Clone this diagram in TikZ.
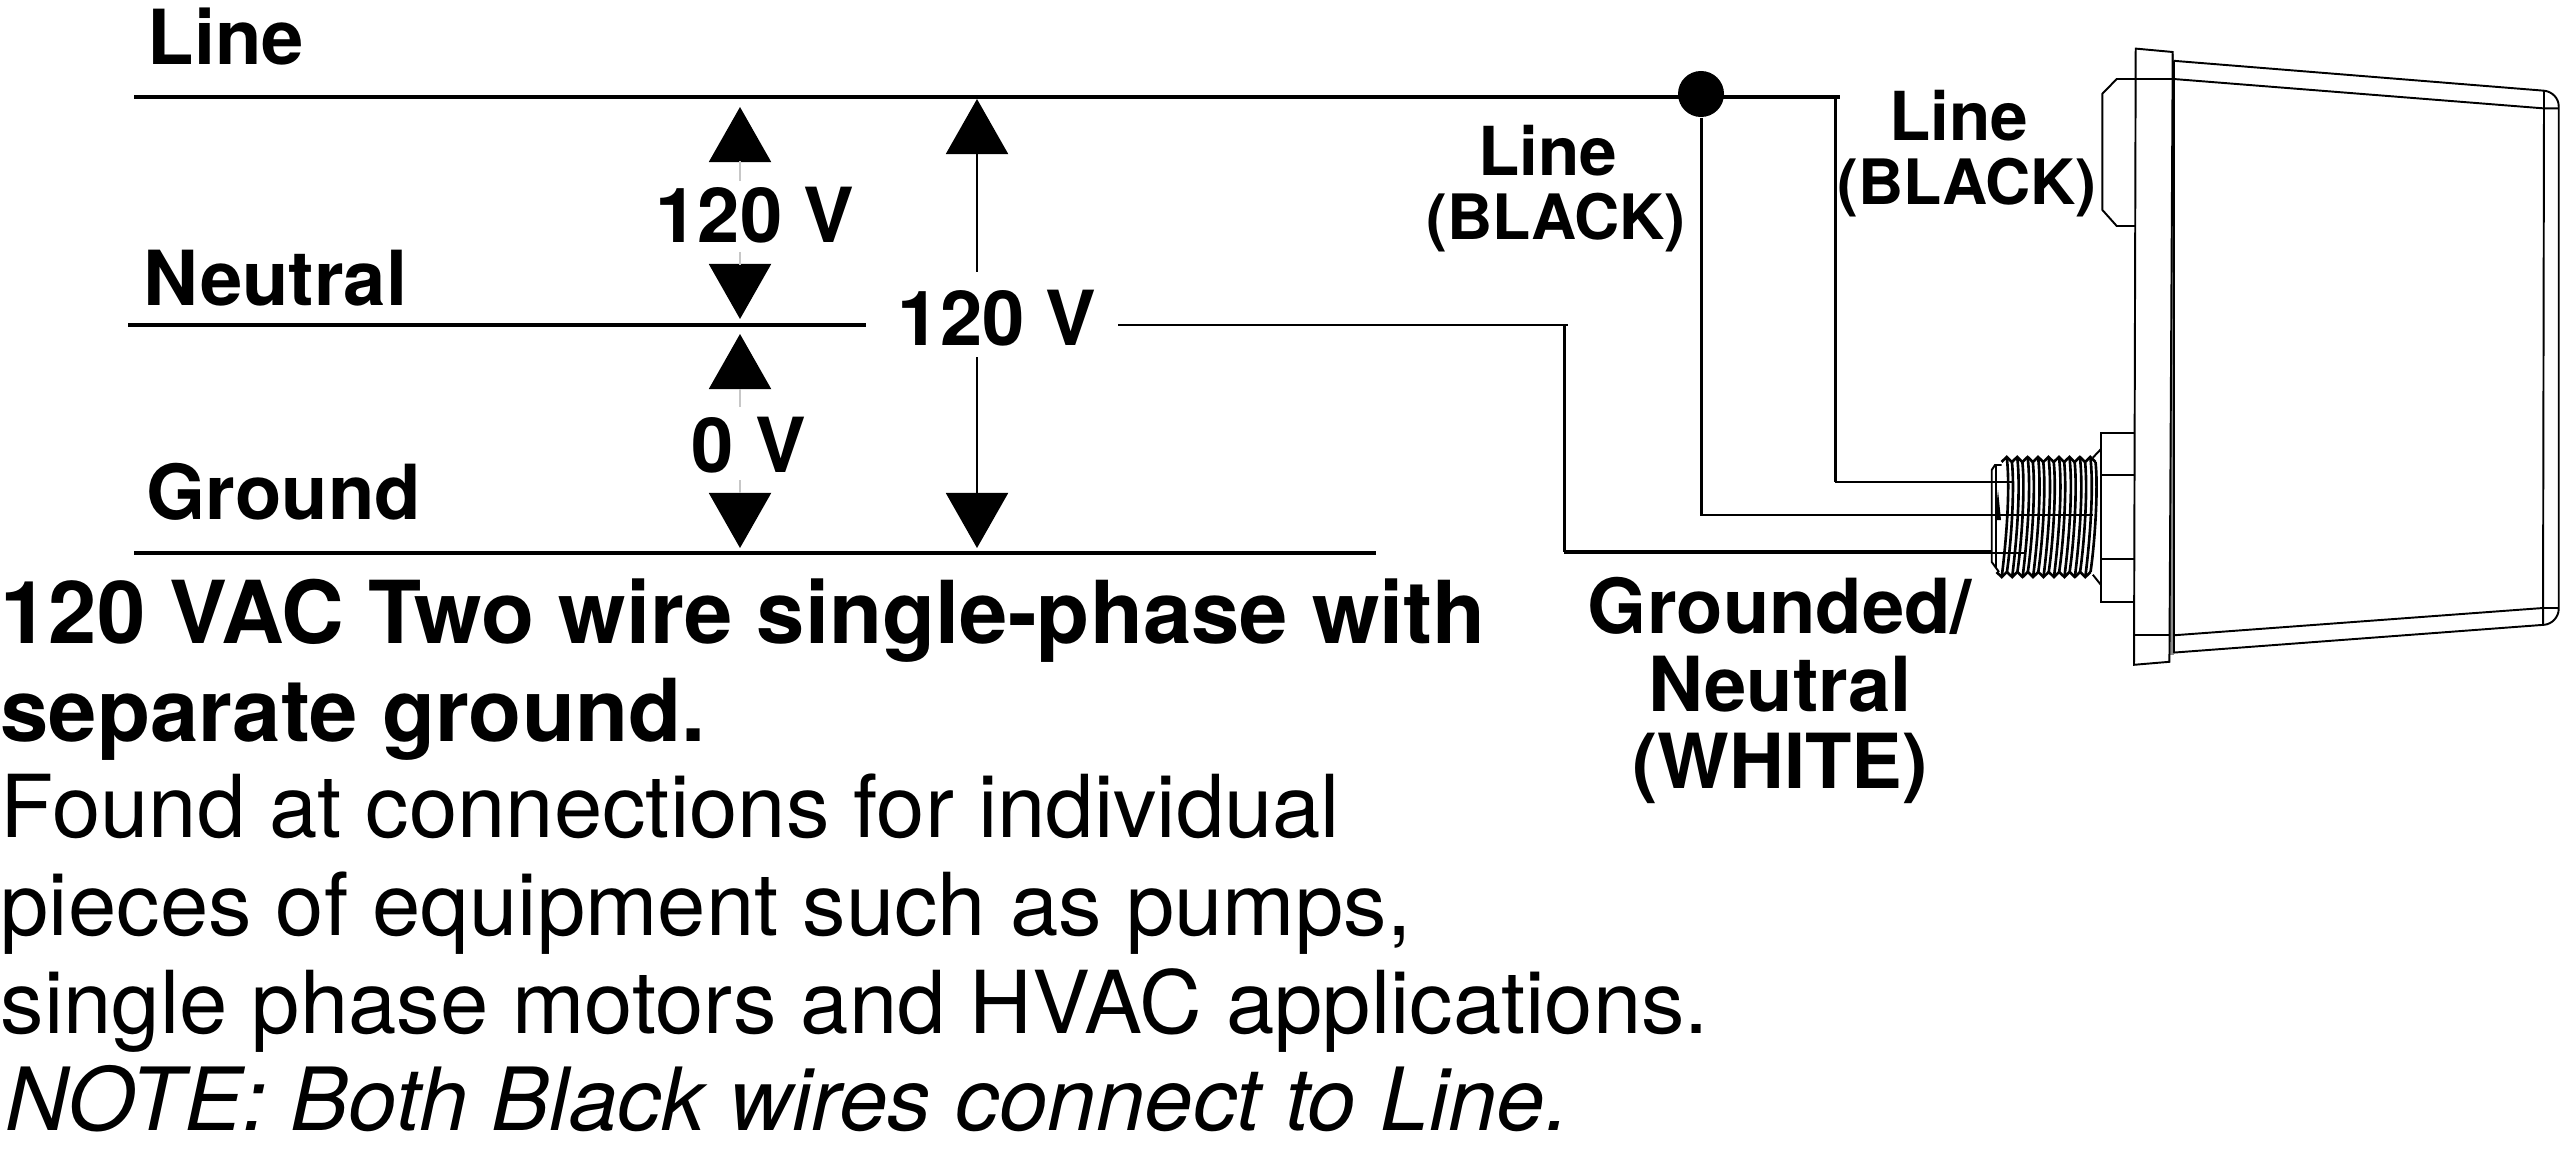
\documentclass[tikz,border=0pt]{standalone}
\usepackage{fontspec}
\setmainfont{TeX Gyre Heros}
\usetikzlibrary{arrows.meta}

\tikzset{
	busline/.style={line width=1.15pt},
	wire/.style={line width=0.85pt},
	devline/.style={line width=0.55pt},
	threadline/.style={line width=0.75pt},
	stem/.style={line width=0.3pt, black!22},
	voltarrow/.style={line width=0.55pt, -{Triangle[length=0.55cm,width=0.62cm]}},
	biglabel/.style={inner sep=0, font=\fontsize{21.6}{25}\selectfont\bfseries},
	wirelabel/.style={inner sep=0, align=center, font=\fontsize{17.8}{18.2}\selectfont\bfseries},
	grndlabel/.style={inner sep=0, align=center, font=\fontsize{21.6}{22}\selectfont\bfseries},
	headtext/.style={inner sep=0, align=left, font=\fontsize{24.7}{27.9}\selectfont\bfseries},
	bodytext/.style={inner sep=0, align=left, font=\fontsize{24.7}{27.9}\selectfont},
}
\newcommand{\linelabel}{{\fontsize{19.2}{18.2}\selectfont Line}\hspace*{0.16cm}\\(BLACK)}

\begin{document}
\begin{tikzpicture}[x=0.01cm, y=-0.01cm]
	\useasboundingbox (0,0) rectangle (2560,1173);
	% wire ends
	\coordinate (lineL) at (134,97);
	\coordinate (lineR) at (1840,97);
	\coordinate (neutL) at (128,325);
	\coordinate (neutM) at (866,325);
	\coordinate (neutN) at (1118,325);
	\coordinate (neutR) at (1568,325);
	\coordinate (grndL) at (134,553);
	\coordinate (grndR) at (1376,553);
	\coordinate (neutC) at (1564,325);
	\coordinate (neutD) at (1564,551);
	\coordinate (neutE) at (1992,551);
	\coordinate (neutF) at (2025,553);
	\coordinate (lineA) at (1701,515);
	\coordinate (lineB) at (2093,515);
	\coordinate (lineC) at (1835,97);
	\coordinate (lineD) at (1835,482);
	\coordinate (lineE) at (2013,482);
	% junction
	\node[circle, fill=black, inner sep=0, minimum size=0.46cm] (linedot) at (1701,94) {};
	% wires
	\draw[busline] (lineL) -- (lineR);
	\draw[busline] (neutL) -- (neutM);
	\draw[wire] (neutN) -- (neutR);
	\draw[busline] (grndL) -- (grndR);
	\draw[wire] (neutC) -- (neutD) -- (neutE);
	\draw[devline] (neutD |- neutF) -- (neutF);
	\draw[wire] (linedot) -- (linedot |- lineA) -- (lineB);
	\draw[wire] (lineC) -- (lineD);
	\draw[devline, line width=0.65pt] (lineD) -- (lineE);
	% arrows
	\draw[voltarrow] (740,161) -- (740,107);
	\draw[voltarrow] (740,265) -- (740,319);
	\draw[voltarrow] (740,389) -- (740,334);
	\draw[voltarrow] (740,493) -- (740,548);
	\draw[stem] (740,161) -- (740,181);
	\draw[stem] (740,252) -- (740,265);
	\draw[stem] (740,389) -- (740,407);
	\draw[stem] (740,480) -- (740,493);
	\draw[voltarrow] (977,272) -- (977,99);
	\draw[voltarrow] (977,357) -- (977,548);
	% device body
	\fill[black!45] (2169,54) rectangle (2173.6,655);
	\draw[devline, fill=white] (2135.7,48.6) -- (2172.7,52) -- (2169.4,661.8) -- (2134,664.8) -- cycle;
	\draw[devline] (2135,79) -- (2173.6,79);
	\draw[devline] (2134,635.3) -- (2169.4,635.3);
	\draw[devline] (2173.6,60.8) -- (2173.6,652.6);
	\draw[devline] (2173.6,60.8) -- (2544,90.7) .. controls (2552,91.5) and (2558.7,98) .. (2558.7,106.3)
		-- (2558.7,609) .. controls (2558.7,617) and (2552,624.2) .. (2544,624.8) -- (2173.6,652.6);
	\draw[devline] (2173.6,79) -- (2544,108.4) -- (2558.7,108.4);
	\draw[devline] (2173.6,635.3) -- (2543,608) -- (2558.7,608);
	\draw[devline] (2544,90.7) -- (2543,624.8);
	% terminal cover
	\draw[devline] (2135,79) -- (2116.7,79) -- (2102.4,93.7) -- (2102.4,210) -- (2116.7,226) -- (2135,226);
	% nut
	\draw[devline] (2135,433) -- (2101,433) -- (2101,601.6) -- (2135,601.6);
	\draw[devline] (2101,475.4) -- (2135,475.4);
	\draw[devline] (2101,558.7) -- (2135,558.7);
	\draw[devline] (2101,449) -- (2092.8,457.7);
	\draw[devline] (2101,585) -- (2092.8,574.7);
	% thread
	\foreach \n in {0,...,8} {
		\pgfmathsetmacro{\xp}{2006.7+10.45*\n}
		\pgfmathsetmacro{\xv}{\xp+5.2}
		\draw[threadline] (\xp,457) .. controls (\xp+4,490) and (\xp-1,545) .. (\xp-5,577);
		\draw[threadline] (\xv,462) .. controls (\xv+3,490) and (\xv-1,545) .. (\xv-5,572);
		\draw[threadline] (\xp-5.2,462) -- (\xp,457) -- (\xv,462);
		\draw[threadline] (\xp-10.2,572) -- (\xp-5,577) -- (\xv-5,572);
	}
	% thread end
	\draw[devline] (2001.5,465) -- (1995,465) -- (1991.7,470) -- (1991.7,562) -- (1999,572);
	\draw[devline] (1996,465) -- (1996,567);
	\fill[black] (1998,490) -- (1995,520) -- (2001,520) -- cycle;
	% labels
	\node[biglabel, anchor=base west] (linetext) at (147,65) {Line};
	\node[biglabel, anchor=base west] (neuttext) at (143,305) {Neutral};
	\node[biglabel, anchor=base west] (grndtext) at (146,519) {Ground};
	\node[biglabel, anchor=base] (voltA) at (755,243) {120 V};
	\node[biglabel, anchor=base] (voltB) at (997,345) {120 V};
	\node[biglabel, anchor=base] (voltC) at (749,472) {0 V};
	\node[wirelabel, anchor=north] (lineleft) at (1556,124) {\linelabel};
	\node[wirelabel, anchor=north] (lineright) at (1967,89) {\linelabel};
	\node[grndlabel, anchor=north] (grndwire) at (1780,577) {Grounded/\\Neutral\\(WHITE)};
	\node[headtext, anchor=north west] (headline) at (0,578) {120 VAC Two wire single-phase with\\separate ground.};
	\node[bodytext, anchor=north west] (bodyline) at (0,773) {Found at connections for individual\\pieces of equipment such as pumps,\\single phase motors and HVAC applications.};
	\node[bodytext, anchor=base west, font=\fontsize{24.8}{27.9}\selectfont\itshape] (noteline) at (5,1130) {NOTE: Both Black wires connect to Line.};
\end{tikzpicture}
\end{document}
